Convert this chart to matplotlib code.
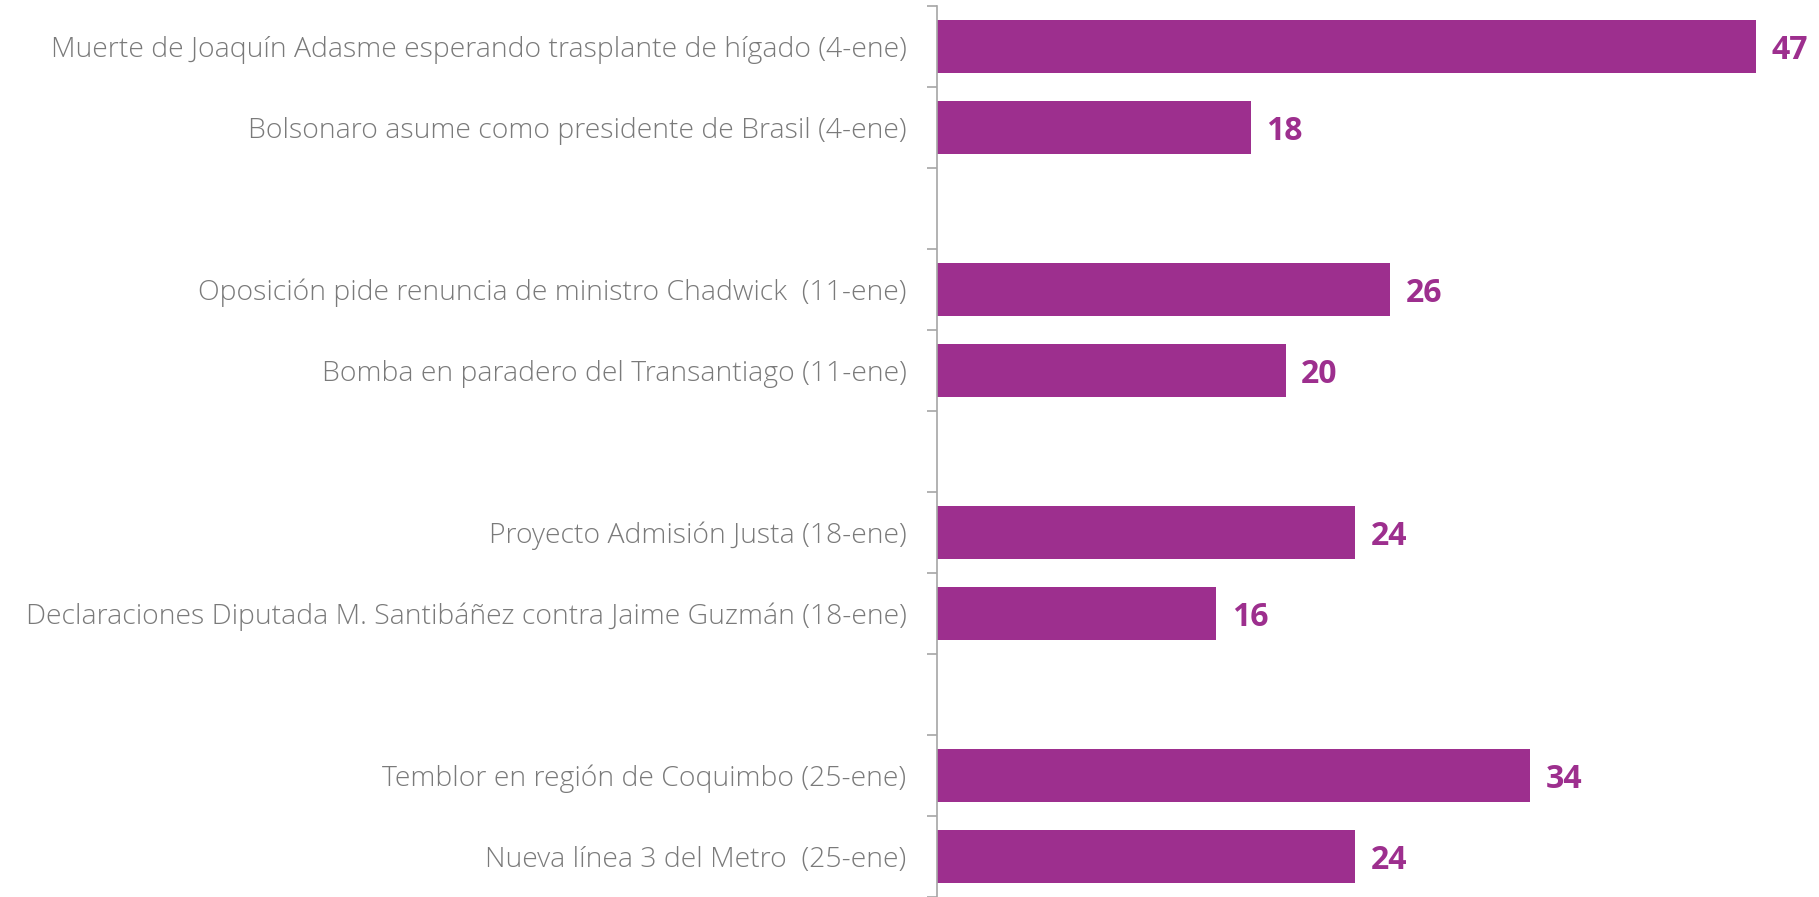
import numpy as np
import matplotlib.pyplot as plt

# events grouped by week, two per week
events = [
    'Muerte de Joaquín Adasme esperando trasplante de hígado (4-ene)',
    'Bolsonaro asume como presidente de Brasil (4-ene)',
    'Oposición pide renuncia de ministro Chadwick  (11-ene)',
    'Bomba en paradero del Transantiago (11-ene)',
    'Proyecto Admisión Justa (18-ene)',
    'Declaraciones Diputada M. Santibáñez contra Jaime Guzmán (18-ene)',
    'Temblor en región de Coquimbo (25-ene)',
    'Nueva línea 3 del Metro  (25-ene)',
]
values = [47, 18, 26, 20, 24, 16, 34, 24]
per_group = 2

bar_color = '#9d2f8e'
text_color = '#7a7a7a'
axis_color = '#a6a6a6'

# each group gets one empty slot after it
idx = np.arange(len(events))
slots = idx + idx // per_group
n_slots = slots[-1] + 1

fig = plt.figure(figsize=(18.19, 8.97), dpi=100)
ax = fig.add_axes([937 / 1819, 0.0, 1 - 937 / 1819, 1 - 6 / 897])

ax.barh(slots, values, height=0.66, color=bar_color)
for s, v in zip(slots, values):
    ax.text(v + 0.9, s, str(v), va='center_baseline', ha='left', color=bar_color,
            fontsize=23, fontweight='bold', family='Open Sans')

ax.set_ylim(n_slots - 0.5, -0.5)
ax.set_xlim(0, (1819 - 937) / 17.43)

ax.set_yticks(slots)
ax.set_yticklabels(events, fontsize=20.4, color=text_color, family='Open Sans', fontweight='light')
ax.tick_params(axis='y', which='major', length=0, pad=22)
ax.set_yticks(np.arange(n_slots + 1) - 0.5, minor=True)
ax.tick_params(axis='y', which='minor', length=7.5, width=1.2, color=axis_color)
ax.set_xticks([])

for side in ['top', 'right', 'bottom']:
    ax.spines[side].set_visible(False)
ax.spines['left'].set_color(axis_color)
ax.spines['left'].set_linewidth(1.2)

plt.savefig('out.png', dpi=100)
